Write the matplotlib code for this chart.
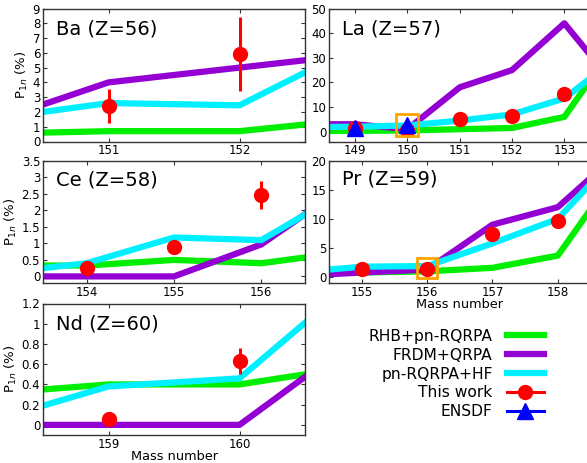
import matplotlib
matplotlib.use("Agg")
import matplotlib.pyplot as plt
from matplotlib.lines import Line2D
from matplotlib.ticker import FuncFormatter, MultipleLocator

# ---------------- data ----------------
# Ba (Z=56)
ba_mass = [150, 151, 152, 153]
ba_rhb = [0.5, 0.7, 0.7, 1.6]
ba_frdm = [1.0, 4.0, 5.0, 6.0]
ba_hf = [1.4, 2.6, 2.45, 6.9]
ba_exp_mass = [151, 152]
ba_exp = [2.4, 5.9]
ba_exp_err = [1.15, 2.5]

# La (Z=57)
la_mass = [148, 149, 150, 151, 152, 153, 154]
la_rhb = [0.3, 0.3, 0.5, 1.0, 1.5, 6.0, 36.0]
la_frdm = [3.0, 3.0, 1.0, 18.0, 25.0, 44.0, 18.0]
la_hf = [1.8, 2.0, 2.5, 4.5, 7.0, 13.5, 30.0]
la_exp_mass = [149, 150, 151, 152, 153]
la_exp = [1.3, 0.8, 5.2, 6.3, 15.2]
la_ensdf_mass = [149, 150]
la_ensdf = [1.4, 2.7]

# Ce (Z=58)
ce_mass = [153, 154, 155, 156, 157]
ce_rhb = [0.33, 0.33, 0.5, 0.4, 0.75]
ce_frdm = [0.0, 0.0, 0.0, 0.97, 2.8]
ce_hf = [0.1, 0.4, 1.18, 1.1, 2.65]
ce_exp_mass = [154, 155, 156]
ce_exp = [0.25, 0.9, 2.47]
ce_exp_err = [0.0, 0.0, 0.42]

# Pr (Z=59)
pr_mass = [154, 155, 156, 157, 158, 159]
pr_rhb = [0.6, 0.8, 1.0, 1.6, 3.7, 19.5]
pr_frdm = [0.2, 0.8, 1.3, 9.0, 12.0, 22.0]
pr_hf = [0.8, 1.8, 1.9, 5.8, 10.0, 22.0]
pr_exp_mass = [155, 156, 157, 158]
pr_exp = [1.4, 1.45, 7.4, 9.6]

# Nd (Z=60)
nd_mass = [158, 159, 160, 161]
nd_rhb = [0.3, 0.4, 0.4, 0.6]
nd_frdm = [0.0, 0.0, 0.0, 0.95]
nd_hf = [0.0, 0.38, 0.46, 1.56]
nd_exp_mass = [159, 160]
nd_exp = [0.06, 0.63]
nd_exp_err = [0.0, 0.13]

# highlighted (boxed) points
box_la = (150, 2.6)
box_pr = (156, 1.6)

legend_labels = ["RHB+pn-RQRPA", "FRDM+QRPA", "pn-RQRPA+HF", "This work", "ENSDF"]

# ---------------- style ----------------
C_RHB = "#00ee00"
C_FRDM = "#9400d3"
C_HF = "#00f0ff"
C_EXP = "#ff0000"
C_ENSDF = "#0000ff"
C_BOX = "#ffa500"
LW = 4.5

W, H = 587, 463
fig = plt.figure(figsize=(W / 100, H / 100), dpi=100)
plt.rcParams["font.family"] = ["DejaVu Sans"]


def axpos(left, top, right, bottom):
    return [left / W, 1 - bottom / H, (right - left) / W, (bottom - top) / H]


def style(ax, xlim, ylim, ystep, ylabel=False, xlabel=False, xticks=None):
    ax.set_xlim(*xlim)
    ax.set_ylim(*ylim)
    ax.yaxis.set_major_locator(MultipleLocator(ystep))
    ax.yaxis.set_major_formatter(FuncFormatter(lambda v, p: "%g" % round(v, 6)))
    if xticks is not None:
        ax.set_xticks(xticks)
    ax.tick_params(direction="in", top=True, right=True, length=3, width=0.8,
                   labelsize=8.5, pad=2, color="#333333")
    for s in ax.spines.values():
        s.set_color("#333333")
        s.set_linewidth(1.0)
    if ylabel:
        ax.set_ylabel("P$_{1n}$ (%)", fontsize=9.5, labelpad=2)
    if xlabel:
        ax.set_xlabel("Mass number", fontsize=9.3, labelpad=-0.8)


def theory(ax, m, rhb, frdm, hf):
    ax.plot(m, rhb, color=C_RHB, lw=LW, zorder=2)
    ax.plot(m, frdm, color=C_FRDM, lw=LW, zorder=2)
    ax.plot(m, hf, color=C_HF, lw=LW, zorder=2)


def label(ax, txt):
    ax.text(0.05, 0.845, txt, transform=ax.transAxes, fontsize=14,
            va="center", ha="left")


def exp(ax, m, v, err=None):
    if err is not None:
        ax.errorbar(m, v, yerr=err, fmt="o", color=C_EXP, ms=10, elinewidth=2.2,
                    capsize=0, zorder=4)
    else:
        ax.plot(m, v, "o", color=C_EXP, ms=10, zorder=4)


# Ba
ax = fig.add_axes(axpos(43, 8.5, 305, 141.5))
theory(ax, ba_mass, ba_rhb, ba_frdm, ba_hf)
exp(ax, ba_exp_mass, ba_exp, ba_exp_err)
style(ax, (150.5, 152.5), (0, 9), 1, ylabel=True, xticks=[151, 152])
label(ax, "Ba (Z=56)")

# La
ax = fig.add_axes(axpos(329, 8.5, 590.5, 141.5))
theory(ax, la_mass, la_rhb, la_frdm, la_hf)
exp(ax, la_exp_mass, la_exp)
ax.plot(la_ensdf_mass, la_ensdf, "^", color=C_ENSDF, ms=11, zorder=5)
ax.plot([box_la[0]], [box_la[1]], "s", mfc="none", mec=C_BOX, mew=2, ms=16, zorder=6)
style(ax, (148.5, 153.5), (-4, 50), 10, xticks=[149, 150, 151, 152, 153])
label(ax, "La (Z=57)")

# Ce
ax = fig.add_axes(axpos(43, 161, 305, 283))
theory(ax, ce_mass, ce_rhb, ce_frdm, ce_hf)
exp(ax, ce_exp_mass, ce_exp, ce_exp_err)
style(ax, (153.5, 156.5), (-0.2, 3.5), 0.5, ylabel=True, xticks=[154, 155, 156])
label(ax, "Ce (Z=58)")

# Pr
ax = fig.add_axes(axpos(329, 160.5, 590.5, 283))
theory(ax, pr_mass, pr_rhb, pr_frdm, pr_hf)
exp(ax, pr_exp_mass, pr_exp)
ax.plot([box_pr[0]], [box_pr[1]], "s", mfc="none", mec=C_BOX, mew=2, ms=15, zorder=6)
style(ax, (154.5, 158.5), (-1, 20), 5, xlabel=True, xticks=[155, 156, 157, 158])
label(ax, "Pr (Z=59)")

# Nd
ax = fig.add_axes(axpos(43, 303.5, 305, 435))
theory(ax, nd_mass, nd_rhb, nd_frdm, nd_hf)
exp(ax, nd_exp_mass, nd_exp, nd_exp_err)
style(ax, (158.5, 160.5), (-0.1, 1.2), 0.2, ylabel=True, xlabel=True, xticks=[159, 160])
label(ax, "Nd (Z=60)")

# Legend
handles = [
    Line2D([], [], color=C_RHB, lw=LW),
    Line2D([], [], color=C_FRDM, lw=LW),
    Line2D([], [], color=C_HF, lw=LW),
    Line2D([], [], color=C_EXP, lw=2.2, marker="o", ms=10),
    Line2D([], [], color=C_ENSDF, lw=2.2, marker="^", ms=12),
]
fig.legend(handles, legend_labels, loc="center right",
           bbox_to_anchor=(544 / W, 1 - 374 / H), frameon=False,
           markerfirst=False, fontsize=11.2, handlelength=2.4,
           handletextpad=0.9, labelspacing=0.25, borderpad=0, borderaxespad=0)

fig.savefig("out.png", dpi=100)
